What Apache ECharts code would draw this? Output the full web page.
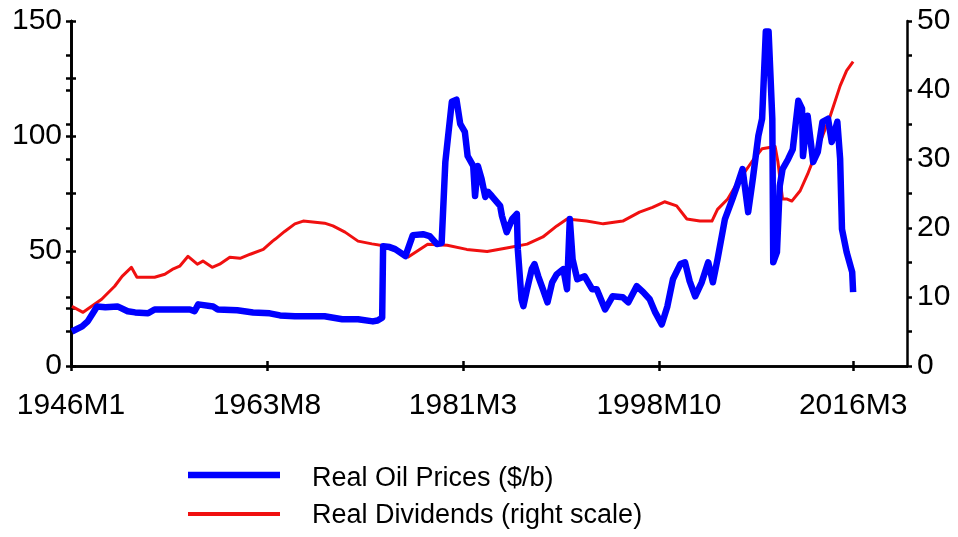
<!DOCTYPE html>
<html>
<head>
<meta charset="utf-8">
<script src="https://cdn.jsdelivr.net/npm/echarts@6/dist/echarts.min.js"></script>
<style>
  html, body { margin: 0; padding: 0; background: #ffffff; }
  #chart { width: 958px; height: 537px; }
</style>
</head>
<body>
<div id="chart"></div>
<script>
// Months counted from 1946M1 (= 0)
const tickMonths = [0, 211, 422, 633, 842];
const tickLabels = ['1946M1', '1963M8', '1981M3', '1998M10', '2016M3'];

const oilName = 'Real Oil Prices ($/b)';
const divName = 'Real Dividends (right scale)';

const oilMonths = [1,12,18,24,28,37,50,61,69,83,90,112,128,133,137,153,158,179,196,214,225,241,273,292,309,325,330,335,336,343,349,360,368,379,386,394,399,403,406,410,415,419,424,427,433,435,438,442,446,449,453,462,464,469,475,480,481,485,487,491,496,499,503,508,513,518,523,530,534,537,540,545,553,561,566,575,583,594,600,609,616,623,629,636,642,648,656,661,666,672,679,686,691,696,704,712,717,723,729,734,740,744,748,751,755,756,760,763,766,772,777,783,787,788,793,799,804,809,815,819,825,828,830,835,841,842];
const oilValues = [15.0,17.2,19.4,23.3,25.9,25.5,25.9,23.8,23.3,22.9,24.6,24.6,24.6,23.8,26.8,25.9,24.6,24.2,23.3,22.9,22.0,21.6,21.6,20.3,20.3,19.4,19.8,21.0,52.1,51.7,50.8,47.8,56.9,57.3,56.5,53.0,53.4,88.7,100.0,114.9,115.8,105.3,101.8,91.3,87.0,73.9,87.0,81.3,73.5,75.7,73.9,69.6,65.2,58.2,63.9,66.1,50.8,29.0,26.0,33.4,42.1,44.3,39.0,33.4,27.7,36.4,39.9,42.1,33.4,63.9,46.4,37.7,39.0,33.4,33.4,24.6,30.3,29.9,27.7,34.7,32.1,29.0,23.3,18.1,25.9,37.7,44.3,45.1,36.9,30.3,36.4,45.1,36.4,46.4,63.9,72.6,78.3,85.6,66.9,81.3,100.1,107.5,145.4,145.4,107.5,45.1,49.5,78.3,85.6,89.9,94.2,115.3,111.9,91.3,108.8,88.7,93.1,106.2,107.5,97.4,106.2,90.1,59.5,49.5,40.8,32.1];

const divMonths = [1,13,33,47,55,65,71,90,101,109,117,126,136,142,152,160,171,182,193,207,217,220,230,241,250,273,282,295,309,324,338,363,384,405,426,448,469,491,508,523,534,555,573,594,612,626,639,652,663,677,690,696,707,718,733,744,758,761,766,771,776,785,793,806,817,828,835,842];
const divValues = [8.65,7.78,9.67,11.56,13.0,14.3,12.86,12.86,13.3,14.0,14.46,15.9,14.75,15.2,14.3,14.75,15.77,15.6,16.2,16.9,18.1,18.4,19.5,20.6,21.0,20.7,20.3,19.4,18.1,17.7,17.4,15.8,17.66,17.5,16.9,16.6,17.1,17.66,18.7,20.3,21.3,21.0,20.6,21.0,22.3,23.0,23.8,23.2,21.3,21.0,21.0,22.7,24.2,26.7,29.6,31.5,31.8,29.6,24.2,24.2,23.9,25.4,27.8,32.3,36.1,40.6,42.8,44.1];

const BLUE = '#0000ff';
const RED = '#f01010';
const FONT = '"Liberation Sans", Arial, sans-serif';

const oilData = oilMonths.map((m, i) => [m, oilValues[i]]);
const divData = divMonths.map((m, i) => [m, divValues[i]]);

const axisLine = { show: true, lineStyle: { color: '#000', width: 2.5 } };
const tickStyle = { color: '#000', width: 2.5 };

function xAxisBase(inside, showLabel) {
  return {
    type: 'value', min: 0, max: 900, position: 'bottom', offset: 0,
    axisLine: axisLine,
    splitLine: { show: false },
    axisTick: { show: true, inside: inside, length: 5, lineStyle: tickStyle, customValues: tickMonths },
    axisLabel: {
      show: showLabel, customValues: tickMonths, margin: 25,
      fontFamily: FONT, fontSize: 30, color: '#000',
      formatter: function (v) { const k = tickMonths.indexOf(v); return k >= 0 ? tickLabels[k] : ''; }
    }
  };
}
function yAxisBase(pos, max, interval, labelStep, inside, showLabel) {
  return {
    type: 'value', position: pos, min: 0, max: max, interval: interval, offset: 0,
    axisLine: axisLine,
    splitLine: { show: false },
    axisTick: { show: true, inside: inside, length: 5, lineStyle: tickStyle },
    axisLabel: {
      show: showLabel, margin: pos === 'left' ? 9 : 10,
      fontFamily: FONT, fontSize: 30, color: '#000',
      formatter: function (v) { return (v % labelStep === 0) ? String(v) : ''; }
    }
  };
}

const chart = echarts.init(document.getElementById('chart'), null, { renderer: 'canvas' });
chart.setOption({
  animation: false,
  backgroundColor: '#ffffff',
  grid: { left: 71, right: 51, top: 21, bottom: 171, containLabel: false },
  xAxis: [xAxisBase(true, true), xAxisBase(false, false)],
  yAxis: [
    yAxisBase('left', 150, 25, 50, true, true),
    yAxisBase('right', 50, 5, 10, true, true),
    yAxisBase('left', 150, 25, 50, false, false),
    yAxisBase('right', 50, 5, 10, false, false)
  ],
  series: [
    {
      name: divName, type: 'line', xAxisIndex: 0, yAxisIndex: 1,
      data: divData, showSymbol: false, symbol: 'none',
      lineStyle: { color: RED, width: 3, join: 'round' }, z: 2
    },
    {
      name: oilName, type: 'line', xAxisIndex: 0, yAxisIndex: 0,
      data: oilData, showSymbol: false, symbol: 'none',
      lineStyle: { color: BLUE, width: 6.5, join: 'round' }, z: 3
    }
  ],
  graphic: [
    { type: 'line', shape: { x1: 188, y1: 475, x2: 280, y2: 475 }, style: { stroke: BLUE, lineWidth: 6.5 } },
    { type: 'text', x: 312, y: 479, style: { text: oilName, fontFamily: FONT, fontSize: 27, fill: '#000', verticalAlign: 'middle' } },
    { type: 'line', shape: { x1: 188, y1: 514, x2: 280, y2: 514 }, style: { stroke: RED, lineWidth: 4 } },
    { type: 'text', x: 312, y: 516, style: { text: divName, fontFamily: FONT, fontSize: 27, fill: '#000', verticalAlign: 'middle' } }
  ]
});
</script>
</body>
</html>
